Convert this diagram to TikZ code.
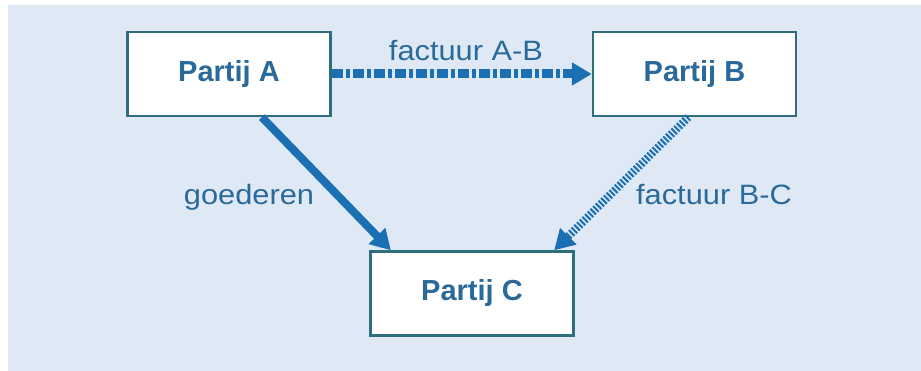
\documentclass[tikz,border=0pt]{standalone}
\usepackage{fontspec}
\setmainfont{Liberation Sans}
\usetikzlibrary{arrows.meta,calc}
\definecolor{bgblue}{HTML}{DFE9F5}
\definecolor{boxline}{HTML}{2F6E7E}
\definecolor{arrowblue}{HTML}{1B6FB3}
\definecolor{txtblue}{HTML}{2A6A9A}
\tikzset{
  party/.style={draw=boxline, line width=2.4pt, fill=white, minimum width=203pt, minimum height=84pt, inner sep=0pt,
    font=\fontsize{29}{32}\selectfont\bfseries, text=txtblue},
  lbl/.style={font=\fontsize{28}{32}\selectfont, text=txtblue, inner sep=0pt, anchor=base, xscale=1.1},
  flow/.style={draw=arrowblue, -{Triangle[length=20pt,width=22pt]}},
}
\begin{document}
\begin{tikzpicture}[x=1pt,y=-1pt]
\useasboundingbox (0,0) rectangle (921,371);
\fill[white] (0,0) rectangle (921,371);
\fill[bgblue] (8,5) rectangle (921,371);
\node[party] (A) at (229,74) {\raisebox{2pt}{Partij A}};
\node[party] (B) at (694.5,74) {\raisebox{2pt}{Partij B}};
\node[party] (C) at (472,293.5) {\raisebox{2pt}{Partij C}};
\draw[flow, line width=9pt, dash pattern=on 11pt off 3pt on 4pt off 3pt] (A.east) -- (B.west);
\draw[flow, line width=8pt] ($(A.south west)!0.66!(A.south east)$) -- ($(C.north west)!0.105!(C.north east)$);
\draw[flow, line width=8pt, dash pattern=on 2pt off 1.8pt] ($(B.south west)!0.47!(B.south east)$) -- ($(C.north west)!0.9!(C.north east)$);
\node[lbl] (lab) at (466,61) {factuur A-B};
\node[lbl] (lgo) at (249,205) {goederen};
\node[lbl] (lbc) at (714,205) {factuur B-C};
\end{tikzpicture}
\end{document}
